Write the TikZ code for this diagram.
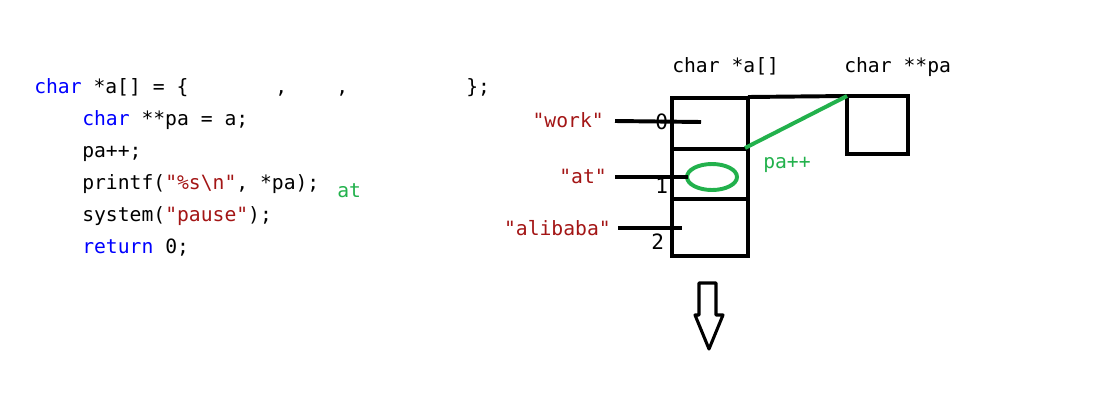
\documentclass[tikz,border=0pt]{standalone}
\usepackage{fontspec}
\setmonofont{DejaVu Sans Mono}
\usepackage{tikz}
\usetikzlibrary{arrows.meta}
\definecolor{kwblue}{RGB}{0,0,255}
\definecolor{strred}{RGB}{163,21,21}
\definecolor{ppgreen}{RGB}{34,177,76}

\begin{document}
\begin{tikzpicture}[x=0.025cm,y=-0.025cm,
        code/.style={anchor=base west, inner sep=0pt, font=\ttfamily\fontsize{14}{16}\selectfont},
        strlab/.style={code, anchor=base east, text=strred},
        idx/.style={code, font=\ttfamily\fontsize{15}{16}\selectfont},
        cell/.style={draw, line width=2.8pt},
        grn/.style={draw=ppgreen, line width=2.8pt}
                            ]
        \useasboundingbox (0,0) rectangle (1108,415);
        % code on the left
        \node[code] (l1) at (34,93) {\textcolor{kwblue}{char} *a[] = \{};
        \node[code] (c1) at (275,93) {,};
        \node[code] (c2) at (336,93) {,};
        \node[code] (cl) at (466,93) {\};};
        \node[code] (l2) at (82,125) {\textcolor{kwblue}{char} **pa = a;};
        \node[code] (l3) at (82,157) {pa++;};
        \node[code] (l4) at (82,189) {printf(\textcolor{strred}{"\%s\textbackslash n"}, *pa);};
        \node[code] (l5) at (82,221) {system(\textcolor{strred}{"pause"});};
        \node[code] (l6) at (82,253) {\textcolor{kwblue}{return} 0;};
        \node[code, text=ppgreen] (res) at (337,197) {at};
        % the two variables
        \node[code] (tA) at (672,72) {char *a[]};
        \node[code] (tP) at (844,72) {char **pa};
        \node[idx] (i0) at (655,129) {0};
        \node[idx] (i1) at (655,193) {1};
        \node[idx] (i2) at (651,249) {2};
        \draw[cell] (672,98) rectangle (748,256);
        \draw[cell] (672,149) -- (748,149);
        \draw[cell] (672,199) -- (748,199);
        \coordinate (arr0) at (748,97);
        \coordinate (arr1) at (745,148);
        \draw[cell] (847,96) rectangle (908,154);
        \coordinate (pa) at (847,96);
        \draw[cell] (arr0) -- (pa);
        \draw[grn] (pa) -- (arr1);
        \node[code, text=ppgreen] (inc) at (763,168) {pa++};
        \draw[grn] (712,177) ellipse (25 and 13);
        % strings
        \node[strlab] (s0) at (604,127) {"work"};
        \node[strlab] (s1) at (607,183) {"at"};
        \node[strlab] (s2) at (611,235) {"alibaba"};
        \coordinate (q0) at (615,121);
        \coordinate (q1) at (615,177);
        \coordinate (q2) at (618,228);
        \coordinate (p0) at (701,122);
        \coordinate (p1) at (688,177);
        \coordinate (p2) at (682,228);
        \draw[line width=2.8pt] (q0) -- (p0);
        \draw[line width=2.8pt] (q1) -- (p1);
        \draw[line width=2.8pt] (q2) -- (p2);
        % down arrow
        \draw[line width=2.2pt, line join=round] (699,283) -- (716,283) -- (716,315) -- (723,315)
            -- (709,349) -- (695,315) -- (699,315) -- cycle;
    \end{tikzpicture}
\end{document}
